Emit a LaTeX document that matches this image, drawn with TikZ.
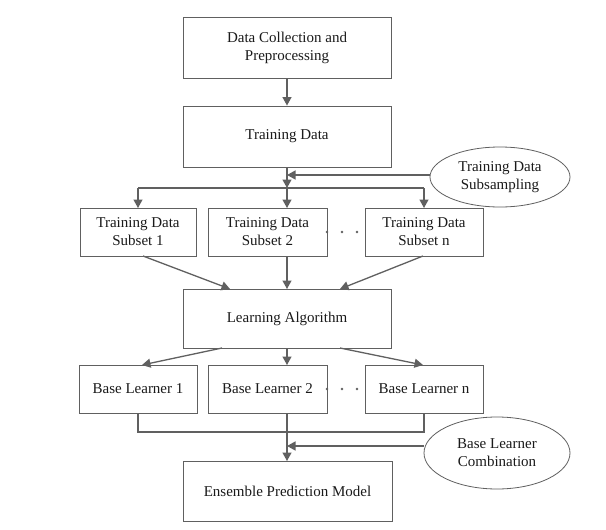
\documentclass[tikz,border=0pt]{standalone}
\usepackage{fontspec}
\setmainfont{Liberation Serif}
\usetikzlibrary{arrows.meta,shapes.geometric}
\definecolor{ln}{HTML}{606060}
\definecolor{tx}{HTML}{1A1A1A}
\begin{document}
\begin{tikzpicture}[x=1pt,y=-1pt,
  box/.style={draw=ln,line width=0.9pt,rectangle,align=center,inner sep=0pt,text=tx,font=\fontsize{15}{18}\selectfont},
  ell/.style={draw=ln,line width=0.8pt,ellipse,align=center,inner sep=0pt,text=tx,font=\fontsize{15}{18}\selectfont},
  conn/.style={draw=ln,line width=1.3pt},
  arr/.style={conn,-{Triangle[length=8.5pt,width=9pt]}},
  dot/.style={circle,fill=ln,inner sep=0pt,minimum size=2.8pt}]
\useasboundingbox (0,0) rectangle (606,530);
\fill[white] (0,0) rectangle (606,530);
\node[box,minimum width=208pt,minimum height=61pt] (dc) at (287,47.5) {Data Collection and\\Preprocessing};
\node[box,minimum width=208pt,minimum height=61pt] (td) at (287,136.5) {Training Data};
\node[ell,minimum width=140pt,minimum height=60pt] (e1) at (500,177) {Training Data\\Subsampling};
\node[box,minimum width=116pt,minimum height=48pt] (s1) at (138,232) {Training Data\\Subset 1};
\node[box,minimum width=119pt,minimum height=48pt] (s2) at (267.5,232) {Training Data\\Subset 2};
\node[box,minimum width=118pt,minimum height=48pt] (sn) at (424,232) {Training Data\\Subset n};
\node[box,minimum width=208pt,minimum height=59pt] (la) at (287,318.5) {Learning Algorithm};
\node[box,minimum width=118pt,minimum height=48pt] (b1) at (138,389) {Base Learner 1};
\node[box,minimum width=119pt,minimum height=48pt] (b2) at (267.5,389) {Base Learner 2};
\node[box,minimum width=118pt,minimum height=48pt] (bn) at (424,389) {Base Learner n};
\node[ell,minimum width=146pt,minimum height=72pt] (e2) at (497,453) {Base Learner\\Combination};
\node[box,minimum width=209pt,minimum height=60pt] (en) at (287.5,491) {Ensemble Prediction Model};
% dots
\node[dot] (d1) at (327,232) {};
\node[dot] (d2) at (342,232) {};
\node[dot] (d3) at (357,232) {};
\node[dot] (d4) at (327,389) {};
\node[dot] (d5) at (342,389) {};
\node[dot] (d6) at (357,389) {};
% coordinates
\coordinate (tdb) at (287,167);
\coordinate (j1) at (287,175);
\coordinate (j2) at (287,188);
\coordinate (jl) at (138,188);
\coordinate (jr) at (424,188);
\coordinate (s1t) at (138,208);
\coordinate (s2t) at (287,208);
\coordinate (snt) at (424,208);
\coordinate (s1b) at (143,256);
\coordinate (s2b) at (287,256);
\coordinate (snb) at (423,256);
\coordinate (lat1) at (230,289);
\coordinate (lat2) at (287,289);
\coordinate (lat3) at (340,289);
\coordinate (lab1) at (222,348);
\coordinate (lab2) at (287,348);
\coordinate (lab3) at (340,348);
\coordinate (b1t) at (142,365);
\coordinate (b2t) at (287,365);
\coordinate (bnt) at (423,365);
\coordinate (b1b) at (138,413);
\coordinate (b2b) at (287,413);
\coordinate (bnb) at (424,413);
\coordinate (k1) at (138,432);
\coordinate (k2) at (424,432);
\coordinate (k3) at (287,446);
\coordinate (ent) at (287,461);
% connectors
\draw[arr] (dc) -- (td);
\draw[arr] (tdb) -- (j2);
\draw[arr] (e1.west |- j1) -- (j1);
\draw[conn] (jl) -- (jr);
\draw[arr] (jl) -- (s1t);
\draw[arr] (j2) -- (s2t);
\draw[arr] (jr) -- (snt);
\draw[arr] (s1b) -- (lat1);
\draw[arr] (s2b) -- (lat2);
\draw[arr] (snb) -- (lat3);
\draw[arr] (lab1) -- (b1t);
\draw[arr] (lab2) -- (b2t);
\draw[arr] (lab3) -- (bnt);
\draw[conn] (b1b) -- (k1) -- (k2) -- (bnb);
\draw[arr] (b2b) -- (ent);
\draw[arr] (e2.west |- k3) -- (k3);
\end{tikzpicture}
\end{document}
